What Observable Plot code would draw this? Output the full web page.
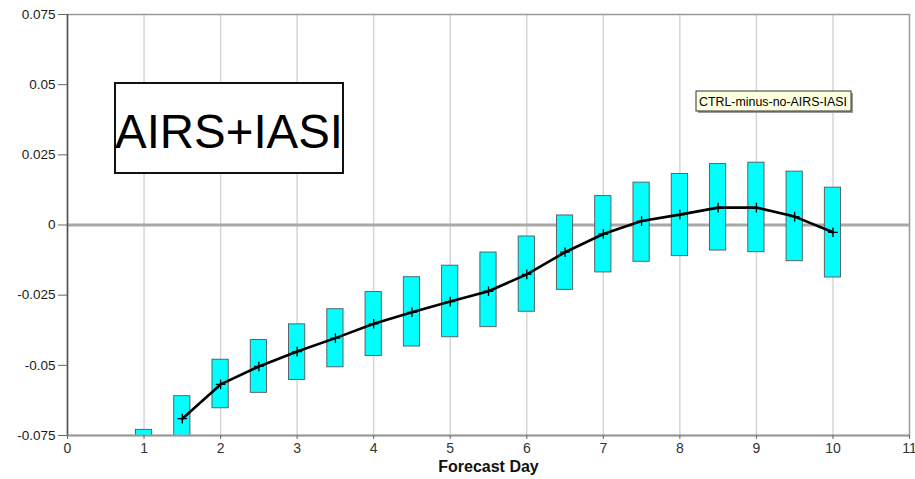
<!DOCTYPE html>
<html>
<head>
<meta charset="utf-8">
<script src="https://cdn.jsdelivr.net/npm/d3@7"></script>
<script src="https://cdn.jsdelivr.net/npm/@observablehq/plot@0.6"></script>
<style>
  body { margin: 0; background: #fff; }
  #chart svg { display: block; font-family: "Liberation Sans", Arial, Helvetica, sans-serif; }
</style>
</head>
<body>
<div id="chart"></div>
<script>
// Forecast day of each box
const days = [1, 1.5, 2, 2.5, 3, 3.5, 4, 4.5, 5, 5.5, 6, 6.5, 7, 7.5, 8, 8.5, 9, 9.5, 10];
// Upper and lower edge of each box
const upper = [-0.073, -0.061, -0.048, -0.041, -0.0354, -0.030, -0.0239, -0.0186, -0.0145, -0.0098,
               -0.0041, 0.0034, 0.0103, 0.0151, 0.0182, 0.0217, 0.0222, 0.0190, 0.0133];
const lower = [-0.079, -0.079, -0.0653, -0.0598, -0.0552, -0.0507, -0.0467, -0.0433, -0.0400, -0.0364,
               -0.0309, -0.0231, -0.0169, -0.0131, -0.0111, -0.0091, -0.0097, -0.0129, -0.0187];
// Mean difference (CTRL minus no-AIRS-IASI)
const meanDays = [1.5, 2, 2.5, 3, 3.5, 4, 4.5, 5, 5.5, 6, 6.5, 7, 7.5, 8, 8.5, 9, 9.5, 10];
const meanDiff = [-0.069, -0.0568, -0.0504, -0.0451, -0.0403, -0.0352, -0.0311, -0.0273, -0.0236,
                  -0.0176, -0.0097, -0.0032, 0.0014, 0.0037, 0.0062, 0.0062, 0.0030, -0.0026];

const yTicks = [-0.075, -0.05, -0.025, 0, 0.025, 0.05, 0.075];
const yTickLabels = ["-0.075", "-0.05", "-0.025", "0", "0.025", "0.05", "0.075"];
const xTicks = [0, 1, 2, 3, 4, 5, 6, 7, 8, 9, 10, 11];
const gridDays = [1, 2, 3, 4, 5, 6, 7, 8, 9, 10];
const xLabel = "Forecast Day";
const boxLabel = "AIRS+IASI";
const seriesName = "CTRL-minus-no-AIRS-IASI";

const boxes = days.map((d, i) => ({day: d, lo: lower[i], hi: upper[i]}));
const means = meanDays.map((d, i) => ({day: d, v: meanDiff[i]}));
const halfWidth = 0.106;

const plot = Plot.plot({
  width: 915,
  height: 479,
  marginLeft: 67,
  marginRight: 6,
  marginTop: 14,
  marginBottom: 44,
  style: {fontFamily: '"Liberation Sans", Arial, sans-serif', background: "#fff"},
  x: {domain: [0, 11]},
  y: {domain: [-0.075, 0.075]},
  marks: [
    Plot.ruleX(gridDays, {stroke: "#d6d6d6", strokeWidth: 1.5}),
    Plot.ruleY([0], {stroke: "#a8a8a8", strokeWidth: 3}),
    Plot.frame({stroke: "#9a9a9a", strokeWidth: 1.5}),
    Plot.rect(boxes, {
      x1: d => d.day - halfWidth, x2: d => d.day + halfWidth,
      y1: "lo", y2: "hi",
      fill: "#00ffff", stroke: "#555", strokeWidth: 0.9, clip: true
    }),
    Plot.ruleX([0], {stroke: "#555", strokeWidth: 1.5}),
    Plot.ruleY([-0.075], {stroke: "#9a9a9a", strokeWidth: 2}),
    Plot.line(means, {x: "day", y: "v", stroke: "#000", strokeWidth: 2.6}),
    Plot.dot(means, {x: "day", y: "v", symbol: "plus", r: 3.2, stroke: "#000", strokeWidth: 1.3}),
    Plot.axisY(yTicks, {
      tickFormat: (d, i) => yTickLabels[i],
      tickSize: 9, tickPadding: 3, fontSize: 13.5, color: "#1a1a1a", stroke: "#666", label: null
    }),
    Plot.axisX(xTicks, {
      tickSize: 4, tickPadding: 4, fontSize: 14, color: "#333", stroke: "#666", label: null
    }),
    Plot.text([xLabel], {
      frameAnchor: "bottom", dy: 36, fontSize: 16, fontWeight: "bold", fill: "#111"
    })
  ]
});

// Annotations: the experiment label box and the series tag
const svg = d3.select(plot);
const note = svg.append("g");
note.append("rect")
  .attr("x", 115).attr("y", 83).attr("width", 228).attr("height", 90)
  .attr("fill", "#fff").attr("stroke", "#111").attr("stroke-width", 2);
note.append("text")
  .attr("x", 229).attr("y", 148)
  .attr("text-anchor", "middle")
  .attr("font-size", 48)
  .attr("textLength", 228).attr("lengthAdjust", "spacingAndGlyphs")
  .attr("fill", "#000")
  .text(boxLabel);

const tag = svg.append("g");
tag.append("rect")
  .attr("x", 698).attr("y", 93).attr("width", 155).attr("height", 20)
  .attr("fill", "#9a9a9a");
tag.append("rect")
  .attr("x", 696).attr("y", 91).attr("width", 155).attr("height", 20)
  .attr("fill", "#ffffe1").attr("stroke", "#333").attr("stroke-width", 1);
tag.append("text")
  .attr("x", 699).attr("y", 105.5)
  .attr("text-anchor", "start")
  .attr("font-size", 12)
  .attr("textLength", 148).attr("lengthAdjust", "spacingAndGlyphs")
  .attr("fill", "#000")
  .text(seriesName);

document.getElementById("chart").appendChild(plot);
</script>
</body>
</html>
